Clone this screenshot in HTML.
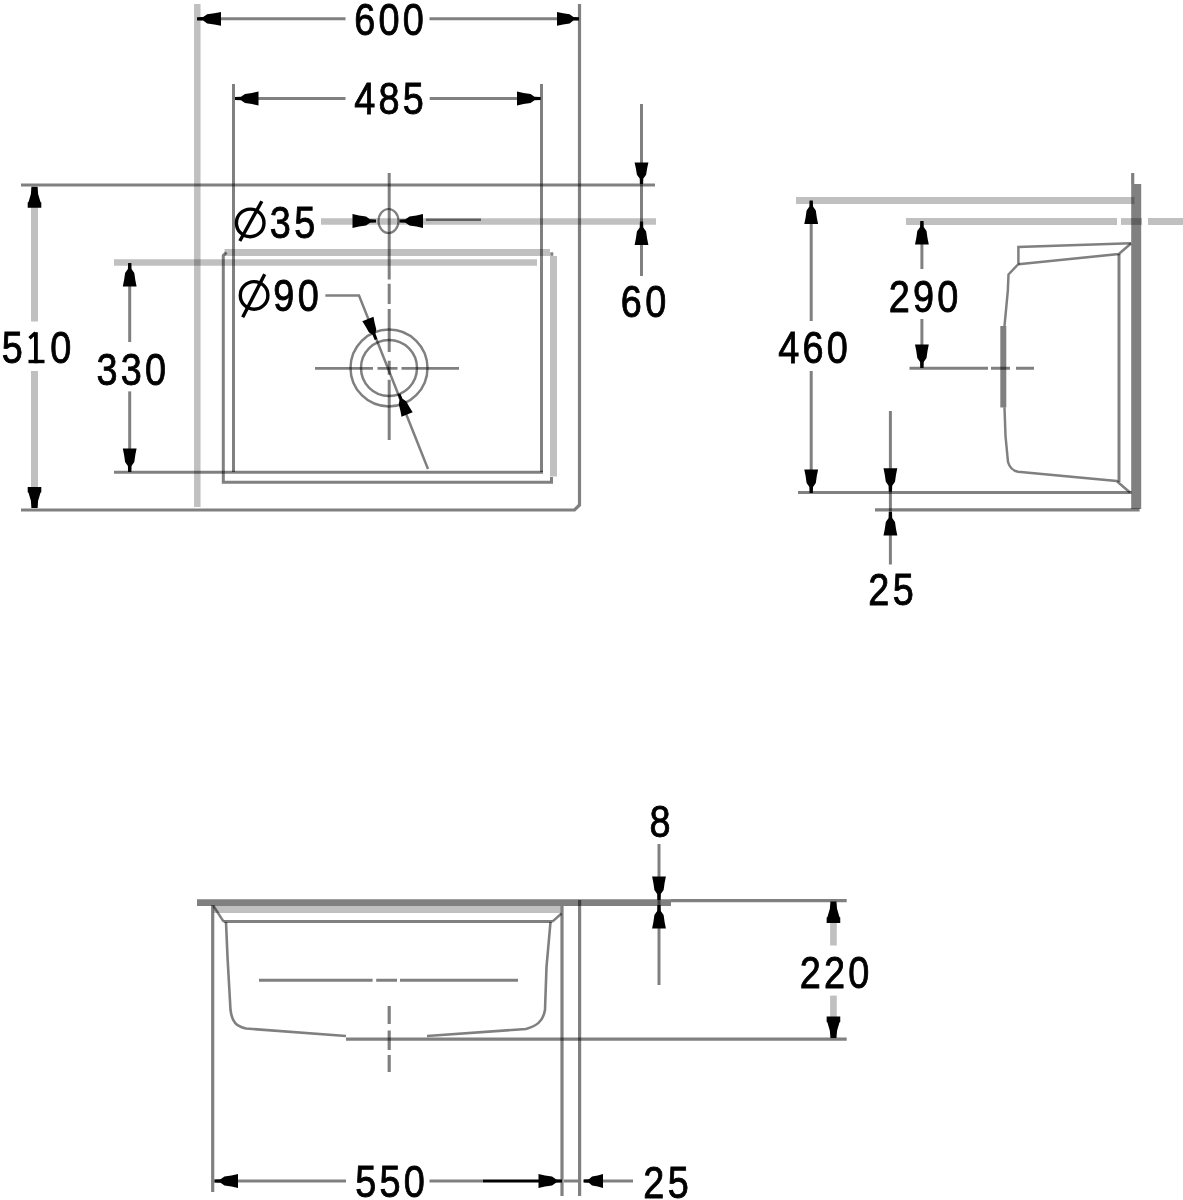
<!DOCTYPE html>
<html><head><meta charset="utf-8"><style>
html,body{margin:0;padding:0;background:#fff;}
svg{display:block;}
text{font-family:"Liberation Sans",sans-serif;fill:#000;stroke:#000;stroke-width:0.9px;}
line,path,circle,ellipse,polygon{mix-blend-mode:multiply;}
</style></head><body>
<svg width="1183" height="1200" viewBox="0 0 1183 1200">
<rect width="1183" height="1200" fill="#fff"/>
<line x1="197.3" y1="4" x2="197.3" y2="507" stroke="#c0c0c0" stroke-width="6.5"/>
<path d="M579.5,4 L579.5,505 L574.5,510 L21,510" stroke="#808080" stroke-width="3.2" fill="none"/>
<line x1="200" y1="18.8" x2="345.5" y2="18.8" stroke="#808080" stroke-width="3"/>
<line x1="429.5" y1="18.8" x2="578" y2="18.8" stroke="#808080" stroke-width="3"/>
<polygon points="197.0,17.2 203.13,17.0 207.21,14.2 214.36,13.2 221.0,11.9 221.0,25.7 214.36,24.4 207.21,23.4 203.13,20.6 197.0,20.4" fill="#000"/>
<polygon points="579.0,20.4 573.38,20.6 569.64,23.4 563.09,24.4 557.0,25.7 557.0,11.9 563.09,13.2 569.64,14.2 573.38,17.0 579.0,17.2" fill="#000"/>
<line x1="233.5" y1="84" x2="233.5" y2="472" stroke="#808080" stroke-width="3"/>
<line x1="541.5" y1="84" x2="541.5" y2="472" stroke="#808080" stroke-width="3"/>
<line x1="235" y1="98.5" x2="345.5" y2="98.5" stroke="#808080" stroke-width="3"/>
<line x1="429.7" y1="98.5" x2="540.7" y2="98.5" stroke="#808080" stroke-width="3"/>
<polygon points="235.0,96.9 241.0,96.7 245.0,93.9 252.0,92.9 258.5,91.6 258.5,105.4 252.0,104.1 245.0,103.1 241.0,100.3 235.0,100.1" fill="#000"/>
<polygon points="540.5,100.1 534.5,100.3 530.5,103.1 523.5,104.1 517.0,105.4 517.0,91.6 523.5,92.9 530.5,93.9 534.5,96.7 540.5,96.9" fill="#000"/>
<line x1="21" y1="185" x2="655" y2="185" stroke="#808080" stroke-width="3"/>
<line x1="34.5" y1="187" x2="34.5" y2="321.4" stroke="#c0c0c0" stroke-width="7"/>
<line x1="34.5" y1="371" x2="34.5" y2="508" stroke="#c0c0c0" stroke-width="7"/>
<polygon points="37.5,186.8 37.8,190.37 38.1,193.95 40.5,201.99 41.3,202.44 41.3,207.8 27.7,207.8 27.7,202.44 28.5,201.99 30.9,193.95 31.2,190.37 31.5,186.8" fill="#000"/>
<polygon points="31.5,508.0 31.2,504.43 30.9,500.85 28.5,492.81 27.7,492.36 27.7,487.0 41.3,487.0 41.3,492.36 40.5,492.81 38.1,500.85 37.8,504.43 37.5,508.0" fill="#000"/>
<line x1="389.2" y1="173" x2="389.2" y2="440" stroke="#808080" stroke-width="3" stroke-dasharray="106.4,4.4,20.2,5,43,8.8,14,5,100"/>
<ellipse cx="388.5" cy="221" rx="10" ry="12" stroke="#808080" stroke-width="2.2" fill="none"/>
<line x1="321" y1="221.5" x2="656" y2="221.5" stroke="#c0c0c0" stroke-width="6.5"/>
<line x1="426" y1="219.8" x2="481" y2="219.8" stroke="#808080" stroke-width="2.5"/>
<polygon points="376.0,222.6 370.0,222.8 366.0,225.6 359.0,226.6 352.5,227.9 352.5,214.1 359.0,215.4 366.0,216.4 370.0,219.2 376.0,219.4" fill="#000"/>
<polygon points="399.5,219.4 405.5,219.2 409.5,216.4 416.5,215.4 423.0,214.1 423.0,227.9 416.5,226.6 409.5,225.6 405.5,222.8 399.5,222.6" fill="#000"/>
<path d="M226.5,252.5 L223.3,255.5 L223.3,482.3 L551.5,482.3 L551.5,477" stroke="#808080" stroke-width="3" fill="none"/>
<line x1="224.5" y1="252.5" x2="550" y2="252.5" stroke="#c0c0c0" stroke-width="7"/>
<line x1="553.5" y1="256" x2="553.5" y2="476.5" stroke="#c0c0c0" stroke-width="7"/>
<rect x="550.3" y="252.3" width="3" height="3.5" fill="#808080"/>
<line x1="114" y1="262.5" x2="537" y2="262.5" stroke="#c0c0c0" stroke-width="6.5"/>
<line x1="114" y1="472.3" x2="543" y2="472.3" stroke="#808080" stroke-width="3"/>
<line x1="129.7" y1="263" x2="129.7" y2="342" stroke="#808080" stroke-width="3"/>
<line x1="129.7" y1="391.4" x2="129.7" y2="472" stroke="#808080" stroke-width="3"/>
<polygon points="131.3,263.0 131.5,269.0 134.3,273.0 135.3,280.0 136.6,286.5 122.8,286.5 124.1,280.0 125.1,273.0 127.9,269.0 128.1,263.0" fill="#000"/>
<polygon points="128.1,472.0 127.9,466.0 125.1,462.0 124.1,455.0 122.8,448.5 136.6,448.5 135.3,455.0 134.3,462.0 131.5,466.0 131.3,472.0" fill="#000"/>
<circle cx="389" cy="368" r="38.5" stroke="#808080" stroke-width="2.5" fill="none"/>
<circle cx="389" cy="368" r="28" stroke="#808080" stroke-width="2.5" fill="none"/>
<line x1="315" y1="368.4" x2="459" y2="368.4" stroke="#808080" stroke-width="2.6" stroke-dasharray="58,4.5,20,4,200"/>
<path d="M325.4,295.6 L359,295.6 L428,469" stroke="#808080" stroke-width="2.5" fill="none"/>
<polygon points="374.71,340.01 372.47,334.86 368.83,332.27 365.61,326.5 362.31,321.26 373.47,316.84 374.66,322.91 376.27,329.32 375.38,333.7 377.29,338.99" fill="#000"/>
<polygon points="400.29,393.49 402.53,398.64 406.17,401.23 409.39,407.0 412.69,412.24 401.53,416.66 400.34,410.59 398.73,404.18 399.62,399.8 397.71,394.51" fill="#000"/>
<line x1="641.5" y1="104" x2="641.5" y2="276" stroke="#808080" stroke-width="3"/>
<polygon points="639.9,184.0 639.7,178.51 636.9,174.85 635.9,168.45 634.6,162.5 648.4,162.5 647.1,168.45 646.1,174.85 643.3,178.51 643.1,184.0" fill="#000"/>
<polygon points="643.1,221.5 643.3,227.5 646.1,231.5 647.1,238.5 648.4,245.0 634.6,245.0 635.9,238.5 636.9,231.5 639.7,227.5 639.9,221.5" fill="#000"/>
<line x1="1136.2" y1="184" x2="1136.2" y2="509" stroke="#808080" stroke-width="10"/>
<line x1="1132.7" y1="173" x2="1132.7" y2="184" stroke="#808080" stroke-width="3.2"/>
<line x1="796" y1="200.5" x2="1134.4" y2="200.5" stroke="#c0c0c0" stroke-width="6.8"/>
<line x1="906" y1="221.5" x2="1117" y2="221.5" stroke="#c0c0c0" stroke-width="6.8"/>
<line x1="1121" y1="221.5" x2="1142" y2="221.5" stroke="#c0c0c0" stroke-width="6.8"/>
<line x1="1148" y1="221.5" x2="1183" y2="221.5" stroke="#c0c0c0" stroke-width="6.8"/>
<line x1="811.2" y1="201" x2="811.2" y2="321" stroke="#808080" stroke-width="3"/>
<line x1="811.2" y1="371" x2="811.2" y2="493" stroke="#808080" stroke-width="3"/>
<polygon points="812.8,200.5 813.0,206.5 815.8,210.5 816.8,217.5 818.1,224.0 804.3,224.0 805.6,217.5 806.6,210.5 809.4,206.5 809.6,200.5" fill="#000"/>
<polygon points="809.6,493.0 809.4,487.0 806.6,483.0 805.6,476.0 804.3,469.5 818.1,469.5 816.8,476.0 815.8,483.0 813.0,487.0 812.8,493.0" fill="#000"/>
<line x1="921.9" y1="221" x2="921.9" y2="269" stroke="#808080" stroke-width="3"/>
<line x1="921.9" y1="319" x2="921.9" y2="368" stroke="#808080" stroke-width="3"/>
<polygon points="923.5,221.0 923.7,227.0 926.5,231.0 927.5,238.0 928.8,244.5 915.0,244.5 916.3,238.0 917.3,231.0 920.1,227.0 920.3,221.0" fill="#000"/>
<polygon points="920.3,368.0 920.1,362.0 917.3,358.0 916.3,351.0 915.0,344.5 928.8,344.5 927.5,351.0 926.5,358.0 923.7,362.0 923.5,368.0" fill="#000"/>
<line x1="909.5" y1="368.2" x2="1034" y2="368.2" stroke="#808080" stroke-width="3" stroke-dasharray="78.5,3,19,6,200"/>
<line x1="798" y1="492.6" x2="1131.7" y2="492.6" stroke="#808080" stroke-width="3"/>
<line x1="875" y1="509.8" x2="1139.6" y2="509.8" stroke="#808080" stroke-width="3.3"/>
<line x1="890.4" y1="411" x2="890.4" y2="564.5" stroke="#808080" stroke-width="3"/>
<polygon points="888.8,491.7 888.6,485.7 885.8,481.7 884.8,474.7 883.5,468.2 897.3,468.2 896.0,474.7 895.0,481.7 892.2,485.7 892.0,491.7" fill="#000"/>
<polygon points="892.0,512.0 892.2,518.0 895.0,522.0 896.0,529.0 897.3,535.5 883.5,535.5 884.8,529.0 885.8,522.0 888.6,518.0 888.8,512.0" fill="#000"/>
<path d="M1131,243.3 L1018.4,247 L1018.4,264 L1008.5,274.5 L1007.8,291 L1004.5,326" stroke="#808080" stroke-width="2.5" fill="none"/>
<path d="M1003.3,326 L1003.3,407.5" stroke="#808080" stroke-width="6" fill="none"/>
<path d="M1004.5,407.5 L1005.5,436 L1008,462 C1010,469 1014,471 1018,471.7 L1116.6,481 L1130,492.5" stroke="#808080" stroke-width="2.5" fill="none"/>
<path d="M1018.4,264.2 L1118.8,254 L1131,243.5" stroke="#808080" stroke-width="2.5" fill="none"/>
<line x1="1119" y1="254" x2="1119" y2="482" stroke="#808080" stroke-width="3"/>
<line x1="197" y1="902.6" x2="671" y2="902.6" stroke="#808080" stroke-width="6.6"/>
<line x1="671" y1="900.7" x2="846.7" y2="900.7" stroke="#808080" stroke-width="3.2"/>
<line x1="213.5" y1="909.5" x2="560.5" y2="909.5" stroke="#c0c0c0" stroke-width="6.8"/>
<line x1="212.7" y1="905" x2="212.7" y2="1192" stroke="#808080" stroke-width="3.2"/>
<line x1="562" y1="906" x2="562" y2="1196" stroke="#808080" stroke-width="3.2"/>
<line x1="579.6" y1="900" x2="579.6" y2="1196" stroke="#808080" stroke-width="3.2"/>
<line x1="223.6" y1="921.6" x2="552.4" y2="921.6" stroke="#808080" stroke-width="3"/>
<path d="M213.5,906 L223.6,921.6" stroke="#808080" stroke-width="2.5" fill="none"/>
<path d="M552.4,921.6 L561.5,913.5" stroke="#808080" stroke-width="2.5" fill="none"/>
<path d="M226,922 L227.5,957 L230.5,1010 C232,1022 236,1026 246,1028.5 L346,1036 M427,1036 L526,1029 C536,1026 543,1022 545,1010 L546.5,967 L550.5,922" stroke="#808080" stroke-width="2.6" fill="none"/>
<line x1="259" y1="980.3" x2="518" y2="980.3" stroke="#808080" stroke-width="3" stroke-dasharray="113.6,3.6,20.8,3,200"/>
<line x1="389.2" y1="1006" x2="389.2" y2="1072" stroke="#808080" stroke-width="3.2" stroke-dasharray="18,6.5,19.5,5,200"/>
<line x1="346" y1="1039.1" x2="846.7" y2="1039.1" stroke="#808080" stroke-width="3.1"/>
<line x1="659" y1="844" x2="659" y2="985" stroke="#808080" stroke-width="3"/>
<polygon points="657.4,900.0 657.2,894.0 654.4,890.0 653.4,883.0 652.1,876.5 665.9,876.5 664.6,883.0 663.6,890.0 660.8,894.0 660.6,900.0" fill="#000"/>
<polygon points="660.6,905.0 660.8,911.0 663.6,915.0 664.6,922.0 665.9,928.5 652.1,928.5 653.4,922.0 654.4,915.0 657.2,911.0 657.4,905.0" fill="#000"/>
<line x1="833.45" y1="920" x2="833.45" y2="945.5" stroke="#c0c0c0" stroke-width="6.7"/>
<line x1="833.45" y1="995.6" x2="833.45" y2="1018" stroke="#c0c0c0" stroke-width="6.7"/>
<polygon points="836.45,901.5 836.75,905.16 837.05,908.82 839.45,917.05 840.25,917.51 840.25,923.0 826.65,923.0 826.65,917.51 827.45,917.05 829.85,908.82 830.15,905.16 830.45,901.5" fill="#000"/>
<polygon points="830.45,1038.0 830.15,1034.34 829.85,1030.68 827.45,1022.45 826.65,1021.99 826.65,1016.5 840.25,1016.5 840.25,1021.99 839.45,1022.45 837.05,1030.68 836.75,1034.34 836.45,1038.0" fill="#000"/>
<line x1="214.5" y1="1181" x2="346" y2="1181" stroke="#808080" stroke-width="3"/>
<line x1="429.5" y1="1181" x2="483" y2="1181" stroke="#808080" stroke-width="3"/>
<line x1="483" y1="1181" x2="541" y2="1181" stroke="#000" stroke-width="3"/>
<line x1="564" y1="1181" x2="578" y2="1181" stroke="#808080" stroke-width="3"/>
<polygon points="214.5,1179.4 220.5,1179.2 224.5,1176.4 231.5,1175.4 238.0,1174.1 238.0,1187.9 231.5,1186.6 224.5,1185.6 220.5,1182.8 214.5,1182.6" fill="#000"/>
<polygon points="562.0,1182.6 556.0,1182.8 552.0,1185.6 545.0,1186.6 538.5,1187.9 538.5,1174.1 545.0,1175.4 552.0,1176.4 556.0,1179.2 562.0,1179.4" fill="#000"/>
<line x1="583" y1="1181" x2="633" y2="1181" stroke="#808080" stroke-width="3"/>
<polygon points="584.0,1179.4 588.85,1179.2 592.09,1176.4 597.74,1175.4 603.0,1174.1 603.0,1187.9 597.74,1186.6 592.09,1185.6 588.85,1182.8 584.0,1182.6" fill="#000"/>
<text transform="translate(364.7,34.6) scale(0.86,1)" text-anchor="middle" font-size="44">6</text>
<text transform="translate(389.0,34.6) scale(0.86,1)" text-anchor="middle" font-size="44">0</text>
<text transform="translate(413.3,34.6) scale(0.86,1)" text-anchor="middle" font-size="44">0</text>
<text transform="translate(364.7,114) scale(0.86,1)" text-anchor="middle" font-size="44">4</text>
<text transform="translate(389.0,114) scale(0.86,1)" text-anchor="middle" font-size="44">8</text>
<text transform="translate(413.3,114) scale(0.86,1)" text-anchor="middle" font-size="44">5</text>
<text transform="translate(12.2,363.2) scale(0.86,1)" text-anchor="middle" font-size="44">5</text>
<path d="M29.5,338.2 L35.5,332.7" stroke="#000" stroke-width="3.4" fill="none"/>
<rect x="34.0" y="332.2" width="3.8" height="31" fill="#000"/>
<rect x="28.5" y="359.8" width="16" height="3.4" fill="#000"/>
<text transform="translate(60.8,363.2) scale(0.86,1)" text-anchor="middle" font-size="44">0</text>
<circle cx="250.2" cy="222.9" r="13.8" stroke="#000" stroke-width="3.4" fill="none"/>
<line x1="261.8" y1="201.3" x2="239.8" y2="241" stroke="#000" stroke-width="3.4"/>
<text transform="translate(280.35,238) scale(0.86,1)" text-anchor="middle" font-size="44">3</text>
<text transform="translate(304.65000000000003,238) scale(0.86,1)" text-anchor="middle" font-size="44">5</text>
<text transform="translate(106.89999999999999,384.5) scale(0.86,1)" text-anchor="middle" font-size="44">3</text>
<text transform="translate(131.2,384.5) scale(0.86,1)" text-anchor="middle" font-size="44">3</text>
<text transform="translate(155.5,384.5) scale(0.86,1)" text-anchor="middle" font-size="44">0</text>
<circle cx="254.1" cy="295.4" r="13.8" stroke="#000" stroke-width="3.4" fill="none"/>
<line x1="264.7" y1="274.2" x2="242.7" y2="317.3" stroke="#000" stroke-width="3.4"/>
<text transform="translate(283.85,311) scale(0.86,1)" text-anchor="middle" font-size="44">9</text>
<text transform="translate(308.15000000000003,311) scale(0.86,1)" text-anchor="middle" font-size="44">0</text>
<text transform="translate(631.35,317) scale(0.86,1)" text-anchor="middle" font-size="44">6</text>
<text transform="translate(655.65,317) scale(0.86,1)" text-anchor="middle" font-size="44">0</text>
<text transform="translate(788.7,362.8) scale(0.86,1)" text-anchor="middle" font-size="44">4</text>
<text transform="translate(813.0,362.8) scale(0.86,1)" text-anchor="middle" font-size="44">6</text>
<text transform="translate(837.3000000000001,362.8) scale(0.86,1)" text-anchor="middle" font-size="44">0</text>
<text transform="translate(899.2,312) scale(0.86,1)" text-anchor="middle" font-size="44">2</text>
<text transform="translate(923.5,312) scale(0.86,1)" text-anchor="middle" font-size="44">9</text>
<text transform="translate(947.8000000000001,312) scale(0.86,1)" text-anchor="middle" font-size="44">0</text>
<text transform="translate(878.85,605) scale(0.86,1)" text-anchor="middle" font-size="44">2</text>
<text transform="translate(903.15,605) scale(0.86,1)" text-anchor="middle" font-size="44">5</text>
<text transform="translate(660.0,837.2) scale(0.86,1)" text-anchor="middle" font-size="44">8</text>
<text transform="translate(810.2,987.5) scale(0.86,1)" text-anchor="middle" font-size="44">2</text>
<text transform="translate(834.5,987.5) scale(0.86,1)" text-anchor="middle" font-size="44">2</text>
<text transform="translate(858.8000000000001,987.5) scale(0.86,1)" text-anchor="middle" font-size="44">0</text>
<text transform="translate(365.7,1196.5) scale(0.86,1)" text-anchor="middle" font-size="44">5</text>
<text transform="translate(390.0,1196.5) scale(0.86,1)" text-anchor="middle" font-size="44">5</text>
<text transform="translate(414.3,1196.5) scale(0.86,1)" text-anchor="middle" font-size="44">0</text>
<text transform="translate(653.85,1198) scale(0.86,1)" text-anchor="middle" font-size="44">2</text>
<text transform="translate(678.15,1198) scale(0.86,1)" text-anchor="middle" font-size="44">5</text>
</svg>
</body></html>
